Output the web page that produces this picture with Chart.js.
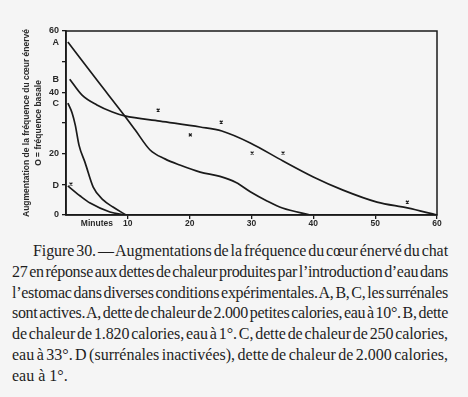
<!DOCTYPE html>
<html>
<head>
<meta charset="utf-8">
<script src="https://cdn.jsdelivr.net/npm/chart.js@4.4.1/dist/chart.umd.min.js"></script>
<style>
  html, body { margin: 0; padding: 0; background: #f5f5f5; }
  #wrap { position: relative; width: 468px; height: 397px; overflow: hidden; }
  #chart { position: absolute; left: 0; top: 0; }
  .cap { position: absolute; left: 12px; top: 241px; width: 436px;
         font-family: "Liberation Serif", "Times New Roman", serif; font-size: 16px;
         line-height: 20.8px; color: #1e1e1e; }
  .row { height: 20.8px; white-space: nowrap; }
  .row span { display: inline-block; white-space: nowrap; }
</style>
</head>
<body>
<div id="wrap">
  <canvas id="chart" width="468" height="232"></canvas>
  <div class="cap" id="cap">
    <div class="row" style="padding-left:21px"><span>Figure 30. — Augmentations de la fréquence du cœur énervé du chat</span></div>
    <div class="row"><span>27 en réponse aux dettes de chaleur produites par l’introduction d’eau dans</span></div>
    <div class="row"><span>l’estomac dans diverses conditions expérimentales. A, B, C, les surrénales</span></div>
    <div class="row"><span>sont actives. A, dette de chaleur de 2.000 petites calories, eau à 10°. B, dette</span></div>
    <div class="row"><span>de chaleur de 1.820 calories, eau à 1°. C, dette de chaleur de 250 calories,</span></div>
    <div class="row"><span>eau à 33°. D (surrénales inactivées), dette de chaleur de 2.000 calories,</span></div>
    <div class="row" data-last="1"><span>eau à 1°.</span></div>
  </div>
</div>
<script>
// minutes after the water reaches the stomach, rise in heart rate
const curveAMinutes = [0.3, 5.0, 9.5, 11.2, 13.6, 16.0, 18.4, 21.7, 24.9, 27.5, 29.8, 32.5, 35.0, 39.5];
const curveAValues  = [56.4, 44.0, 32.3, 27.7, 21.2, 18.3, 16.3, 14.0, 12.6, 10.6, 7.6, 4.6, 2.3, 0];

const curveBMinutes = [0.6, 2.6, 5.0, 7.5, 9.5, 15.2, 21.7, 25.2, 29.8, 35.1, 40.0, 44.8, 50.3, 55.2, 60];
const curveBValues  = [44.3, 39.1, 35.9, 33.6, 32.3, 30.6, 28.7, 27.4, 23.5, 17.6, 12.4, 8.1, 4.2, 2.3, 0];

const curveCMinutes = [0.3, 1.0, 1.5, 2.1, 3.1, 4.4, 6.0, 7.6, 9.7];
const curveCValues  = [36.5, 33.2, 29.3, 22.8, 17.0, 9.1, 4.9, 2.6, 0];

const curveDMinutes = [0.3, 2.3, 3.9, 7.1, 9.5];
const curveDValues  = [9.5, 6.2, 3.9, 1.0, 0];

// isolated observations
const obsMinutes = [0.8, 14.9, 20.1, 25.1, 30.1, 35.1, 55.2];
const obsValues  = [10.1, 34.2, 26.1, 30.3, 20.2, 20.2, 4.2];

const curveLetters = ['A', 'B', 'C', 'D'];
const letterValues = [curveAValues[0], curveBValues[0], curveCValues[0], curveDValues[0]];
const yTickValues = [0, 10, 20, 30, 40, 50, 60];
const yTickLabels = ['0', '', '20', '', '40', '', '60'];
const xTickValues = [10, 20, 30, 40, 50, 60];
const xUnitLabel = 'Minutes';
const xUnitAt = 5;

const ink = '#1a1a1a';
const pts = (xs, ys) => xs.map((x, i) => ({ x: x, y: ys[i] }));

const curve = (xs, ys) => ({
  data: pts(xs, ys),
  borderColor: ink,
  borderWidth: 1.7,
  pointRadius: 0,
  cubicInterpolationMode: 'monotone',
  fill: false
});

// closes the box around the plot
const frame = {
  id: 'frame',
  afterDraw(chart) {
    const { ctx, chartArea: a } = chart;
    ctx.save();
    ctx.strokeStyle = ink;
    ctx.lineWidth = 1.5;
    ctx.strokeRect(a.left, a.top, a.right - a.left, a.bottom - a.top);
    ctx.restore();
  }
};

new Chart(document.getElementById('chart'), {
  type: 'line',
  data: {
    datasets: [
      curve(curveAMinutes, curveAValues),
      curve(curveBMinutes, curveBValues),
      curve(curveCMinutes, curveCValues),
      curve(curveDMinutes, curveDValues),
      {
        data: pts(obsMinutes, obsValues),
        showLine: false,
        pointStyle: 'crossRot',
        pointRadius: 2,
        pointBorderWidth: 1.3,
        borderColor: ink,
        backgroundColor: ink
      }
    ]
  },
  options: {
    responsive: false,
    animation: false,
    layout: { padding: { left: 0, top: 31, right: 31, bottom: 0 } },
    plugins: { legend: { display: false }, tooltip: { enabled: false } },
    scales: {
      x: {
        type: 'linear',
        min: 0,
        max: 60,
        afterFit(s) { s.height = 17; },
        afterBuildTicks(s) {
          s.ticks = [{ value: xUnitAt, label: xUnitLabel }]
            .concat(xTickValues.map(v => ({ value: v })));
        },
        ticks: {
          autoSkip: false,
          maxRotation: 0,
          padding: 0,
          color: '#2a2a2a',
          font: { family: 'Liberation Sans', size: 8.5, weight: 'bold' },
          callback(v) { return v === xUnitAt ? xUnitLabel : String(v); }
        },
        grid: {
          drawOnChartArea: false,
          tickLength: 4,
          lineWidth: 1.3,
          tickColor: c => (c.tick && c.tick.value === xUnitAt ? 'rgba(0,0,0,0)' : ink)
        },
        border: { color: ink, width: 1.6 }
      },
      y: {
        min: 0,
        max: 60,
        afterFit(s) { s.width = 66; },
        afterBuildTicks(s) {
          s.ticks = yTickValues.map(v => ({ value: v }))
            .concat(letterValues.map(v => ({ value: v })));
        },
        ticks: {
          autoSkip: false,
          padding: 3,
          color: '#2a2a2a',
          font: { family: 'Liberation Sans', size: 9, weight: 'bold' },
          callback(v) {
            const li = letterValues.indexOf(v);
            if (li >= 0) return curveLetters[li];
            return yTickLabels[yTickValues.indexOf(v)];
          }
        },
        grid: {
          drawOnChartArea: false,
          tickLength: 4,
          lineWidth: 1.3,
          tickColor: c => (c.tick && letterValues.indexOf(c.tick.value) >= 0 ? 'rgba(0,0,0,0)' : ink)
        },
        border: { color: ink, width: 1.6 },
        title: {
          display: true,
          text: ['Augmentation de la fréquence du cœur énervé', 'O = fréquence basale'],
          color: '#2a2a2a',
          font: { family: 'Liberation Sans', size: 8.5, weight: 'bold', lineHeight: 1.4 },
          padding: { top: 21, bottom: 0 }
        }
      }
    }
  },
  plugins: [frame]
});

// justify each caption line to its box
document.querySelectorAll('#cap .row').forEach(row => {
  if (row.dataset.last) return;
  const span = row.querySelector('span');
  const pad = parseFloat(row.style.paddingLeft || 0);
  const target = 436 - pad;
  const text = span.textContent;
  const spaces = (text.match(/ /g) || []).length;
  const w = span.getBoundingClientRect().width;
  let ws = (target - w) / spaces;
  let ls = 0;
  if (ws < -1.9) {
    ws = -1.9;
    ls = (target - (w + spaces * ws)) / text.length;
  }
  span.style.wordSpacing = ws + 'px';
  span.style.letterSpacing = ls + 'px';
});
</script>
</body>
</html>
